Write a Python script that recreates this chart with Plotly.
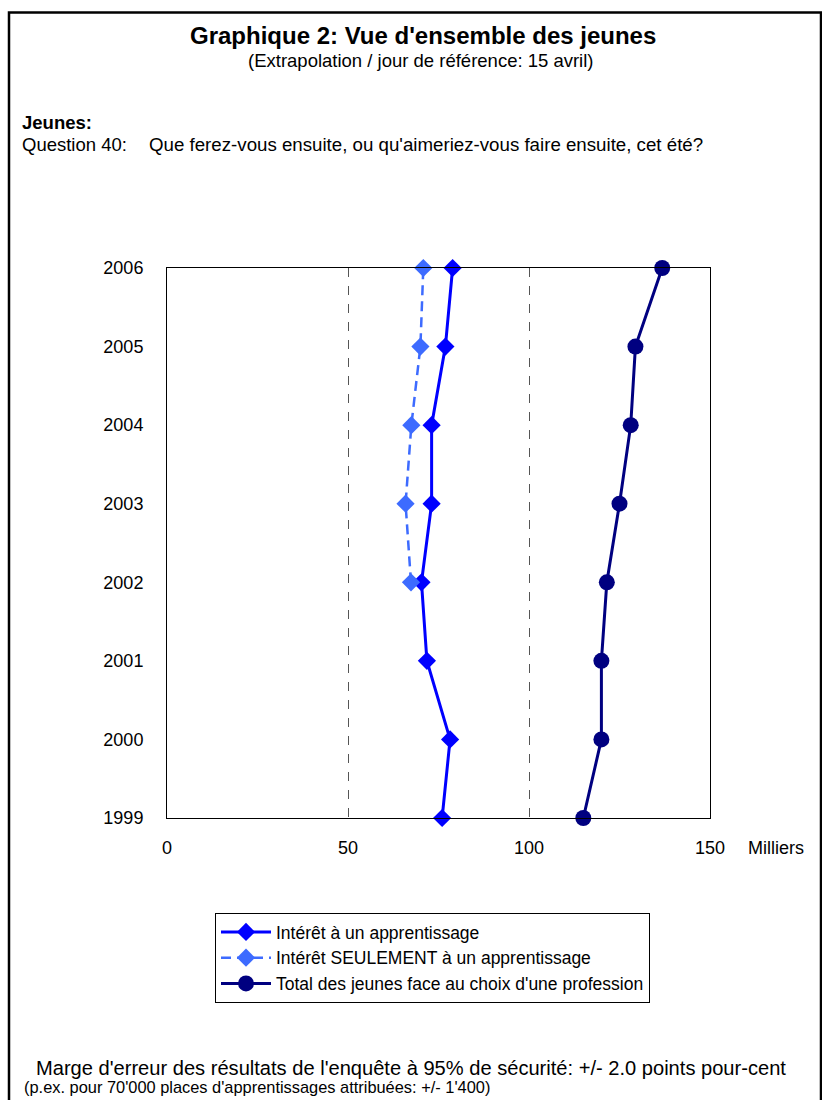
import plotly.graph_objects as go

# Survey years (bottom to top)
years = [1999, 2000, 2001, 2002, 2003, 2004, 2005, 2006]

# Values in thousands
interet_apprentissage = [76.0, 78.2, 71.8, 70.3, 73.1, 73.1, 76.9, 78.9]
years_seulement = [2002, 2003, 2004, 2005, 2006]
interet_seulement = [67.4, 65.9, 67.5, 70.0, 70.8]
total_jeunes = [115.0, 120.0, 120.0, 121.5, 125.0, 128.1, 129.4, 136.8]

x_ticks = [0, 50, 100, 150]

W, H = 822, 1100
L, R, T, B = 167, 710, 268, 818
FONT = "Liberation Sans, Arial, sans-serif"


def px(x):
    return (x - L) / (R - L)


def py(y):
    return (B - y) / (B - T)


fig = go.Figure()

fig.add_trace(go.Scatter(
    x=interet_apprentissage, y=years, mode="lines+markers",
    name="Intérêt à un apprentissage",
    line=dict(color="#0000FF", width=3),
    marker=dict(symbol="diamond", size=14, color="#0000FF"),
    cliponaxis=False,
))
fig.add_trace(go.Scatter(
    x=interet_seulement, y=years_seulement, mode="lines+markers",
    name="Intérêt SEULEMENT à un apprentissage",
    line=dict(color="#3D6BFF", width=2.5, dash="10px,6px"),
    marker=dict(symbol="diamond", size=14, color="#3D6BFF"),
    cliponaxis=False,
))
fig.add_trace(go.Scatter(
    x=total_jeunes, y=years, mode="lines+markers",
    name="Total des jeunes face au choix d'une profession",
    line=dict(color="#000080", width=3),
    marker=dict(symbol="circle", size=16, color="#000080"),
    cliponaxis=False,
))

annotations = [
    dict(text="<b>Graphique 2: Vue d'ensemble des jeunes</b>", x=px(423), y=py(36),
         xanchor="center", yanchor="middle", font=dict(size=24)),
    dict(text="(Extrapolation / jour de référence: 15 avril)", x=px(421), y=py(61),
         xanchor="center", yanchor="middle", font=dict(size=18.5)),
    dict(text="<b>Jeunes:</b>", x=px(20), y=py(122), xanchor="left", yanchor="middle",
         font=dict(size=18.5)),
    dict(text="Question 40:", x=px(20), y=py(144), xanchor="left", yanchor="middle",
         font=dict(size=18.5)),
    dict(text="Que ferez-vous ensuite, ou qu'aimeriez-vous faire ensuite, cet été?",
         x=px(147), y=py(144), xanchor="left", yanchor="middle", font=dict(size=18.7)),
    dict(text="Milliers", x=px(746), y=py(848), xanchor="left", yanchor="middle",
         font=dict(size=18)),
    dict(text="Marge d'erreur des résultats de l'enquête à 95% de sécurité: +/- 2.0 points pour-cent",
         x=px(34), y=py(1068), xanchor="left", yanchor="middle", font=dict(size=20.1)),
    dict(text="(p.ex. pour 70'000 places d'apprentissages attribuées: +/- 1'400)",
         x=px(22), y=py(1087), xanchor="left", yanchor="middle", font=dict(size=16.4)),
]
for a in annotations:
    a.update(xref="paper", yref="paper", showarrow=False)

shapes = [
    # outer page frame
    dict(type="rect", xref="paper", yref="paper", x0=px(9), x1=px(821), y0=py(12.5), y1=py(1120),
         line=dict(color="black", width=2.5), layer="below"),
]

fig.update_layout(
    width=W, height=H,
    margin=dict(l=L, r=W - R, t=T, b=H - B),
    paper_bgcolor="white", plot_bgcolor="white",
    font=dict(family=FONT, size=18, color="black"),
    showlegend=True,
    legend=dict(
        x=px(215), y=py(913), xanchor="left", yanchor="top",
        bordercolor="black", borderwidth=1, bgcolor="white",
        font=dict(size=17.5), tracegroupgap=0, itemwidth=50,
    ),
    annotations=annotations,
    shapes=shapes,
    xaxis=dict(
        range=[0, 150], tickvals=x_ticks, showgrid=True,
        gridcolor="#555555", griddash="dash", gridwidth=1,
        showline=True, linecolor="black", linewidth=1, mirror=True,
        ticks="", ticklabelstandoff=13, zeroline=False,
        tickfont=dict(size=18),
    ),
    yaxis=dict(
        range=[1999, 2006], tickvals=years, showgrid=False,
        showline=True, linecolor="black", linewidth=1, mirror=True,
        ticks="", ticklabelstandoff=19, zeroline=False,
        tickfont=dict(size=18),
    ),
)

fig.write_html("out.html")
